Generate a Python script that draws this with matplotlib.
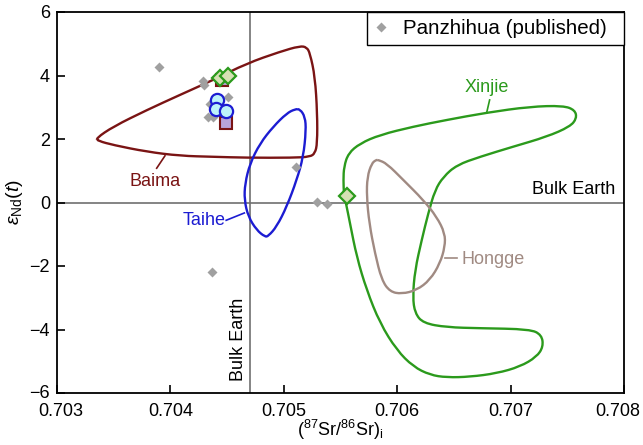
import numpy as np
import matplotlib
matplotlib.use("Agg")
import matplotlib.pyplot as plt
from matplotlib.path import Path
from matplotlib.patches import PathPatch
from matplotlib.transforms import ScaledTranslation

plt.rcParams['font.family'] = ['Liberation Sans', 'DejaVu Sans']
plt.rcParams['mathtext.fontset'] = 'custom'
plt.rcParams['mathtext.rm'] = 'Liberation Sans'
plt.rcParams['mathtext.it'] = 'Liberation Sans:italic'
plt.rcParams['mathtext.sf'] = 'Liberation Sans'

# ---- data ----
baima_x = [0.703344, 0.703496, 0.703791, 0.704085, 0.704378, 0.704673, 0.704967, 0.705143,
           0.705202, 0.705231, 0.705275, 0.705295, 0.705295, 0.705275, 0.705231, 0.705084,
           0.704673, 0.704378, 0.704085, 0.703791, 0.703496, 0.703364]
baima_y = [2.02, 2.39, 2.91, 3.39, 3.86, 4.38, 4.75, 4.93,
           4.89, 4.70, 3.96, 2.81, 1.86, 1.55, 1.44, 1.41,
           1.41, 1.44, 1.47, 1.60, 1.81, 1.94]

taihe_x = [0.705143, 0.705187, 0.705196, 0.705172, 0.705114, 0.705026, 0.704937, 0.704863,
           0.704834, 0.704761, 0.704687, 0.704652, 0.704658, 0.704702, 0.704790, 0.704907,
           0.705026, 0.705099]
taihe_y = [2.94, 2.70, 2.28, 1.44, 0.71, -0.13, -0.76, -1.06,
           -1.08, -0.87, -0.45, 0.08, 0.60, 1.23, 1.86, 2.39,
           2.81, 2.94]

xinjie_x = [0.705531, 0.705525, 0.705531, 0.705569, 0.705672, 0.705848, 0.706142, 0.706436,
            0.706789, 0.707171, 0.707465, 0.707568, 0.707583, 0.707524, 0.707318, 0.707024,
            0.706730, 0.706525, 0.706407, 0.706333, 0.706274, 0.706216, 0.706157, 0.706137,
            0.706157, 0.706230, 0.706436, 0.706730, 0.707171, 0.707274, 0.707288, 0.707230,
            0.707083, 0.706877, 0.706642, 0.706436, 0.706289, 0.706142, 0.705996, 0.705848,
            0.705731, 0.705643, 0.705584, 0.705549]
xinjie_y = [0.205, 0.71, 1.13, 1.55, 1.86, 2.13, 2.39, 2.60,
            2.83, 3.02, 3.05, 2.91, 2.65, 2.39, 2.07, 1.76,
            1.44, 1.18, 0.81, 0.39, -0.34, -1.18, -2.13, -2.97,
            -3.49, -3.80, -3.93, -3.96, -3.99, -4.17, -4.54, -4.86,
            -5.17, -5.38, -5.49, -5.51, -5.43, -5.17, -4.65, -3.80,
            -2.76, -1.71, -0.66, -0.03]

hongge_x = [0.705833, 0.705907, 0.706054, 0.706230, 0.706348, 0.706421, 0.706421, 0.706377,
            0.706289, 0.706172, 0.706040, 0.705936, 0.705863, 0.705804, 0.705754, 0.705731,
            0.705736, 0.705775, 0.705813]
hongge_y = [1.34, 1.23, 0.71, 0.08, -0.45, -0.97, -1.39, -1.92,
            -2.44, -2.76, -2.88, -2.81, -2.44, -1.60, -0.66, 0.18,
            0.81, 1.23, 1.34]

panzhihua_x = [0.703899, 0.704290, 0.704300, 0.704505, 0.704349, 0.704334, 0.704378,
               0.705108, 0.705290, 0.705378, 0.704370]
panzhihua_y = [4.28, 3.84, 3.70, 3.33, 3.10, 2.68, 2.68,
               1.11, 0.01, -0.05, -2.18]

square_x = [0.704452, 0.704490]
square_y = [3.86, 2.51]

circle_x = [0.704408, 0.704402, 0.704490]
circle_y = [3.23, 2.94, 2.88]

diamond_x = [0.704437, 0.704505, 0.705553]
diamond_y = [3.93, 3.99, 0.22]

bulk_sr = 0.7047
bulk_nd = 0.0

xticks = [0.703, 0.704, 0.705, 0.706, 0.707, 0.708]
yticks = [-6, -4, -2, 0, 2, 4, 6]

# ---- colors ----
c_baima = '#7a1414'
c_taihe = '#1c1cd2'
c_xinjie = '#2b9a1c'
c_hongge = '#a08a82'
c_grey = '#a0a0a0'

fig = plt.figure(figsize=(6.43, 4.45), dpi=100)
ax = fig.add_axes([57/643, 1-393/445, (624-57)/643, (393-12)/445])

ax.axvline(bulk_sr, color='#707070', lw=1.2, zorder=1)
ax.axhline(bulk_nd, color='#707070', lw=1.2, zorder=1)


def smooth_loop_path(xs, ys):
    """Closed quadratic-Bezier path using the read points as control points."""
    p = np.column_stack([xs, ys])
    n = len(p)
    mids = (p + np.roll(p, -1, axis=0)) / 2.0
    verts = [mids[-1]]
    codes = [Path.MOVETO]
    for i in range(n):
        verts += [p[i], mids[i]]
        codes += [Path.CURVE3, Path.CURVE3]
    return Path(verts, codes)


for xs, ys, c in [(baima_x, baima_y, c_baima), (taihe_x, taihe_y, c_taihe),
                  (xinjie_x, xinjie_y, c_xinjie), (hongge_x, hongge_y, c_hongge)]:
    ax.add_patch(PathPatch(smooth_loop_path(xs, ys), fill=False, edgecolor=c, lw=1.7,
                           zorder=2))

ax.plot(panzhihua_x, panzhihua_y, 'D', ms=5.3, color=c_grey, mec='none', zorder=3,
        ls='none', label='Panzhihua (published)')
ax.plot(square_x, square_y, 's', ms=9, mfc='#b9a3da', mec=c_baima, mew=1.5, zorder=4, ls='none')
ax.plot(circle_x, circle_y, 'o', ms=9.5, mfc='#bdf2fa', mec=c_taihe, mew=1.6, zorder=5, ls='none')
ax.plot(diamond_x, diamond_y, 'D', ms=8, mfc='#d6e0b4', mec=c_xinjie, mew=1.6, zorder=6, ls='none')

# labels with leaders
fs = 13
ax.text(0.703864, 0.66, 'Baima', color=c_baima, fontsize=fs, ha='center', va='center')
ax.plot([0.703879, 0.703952], [1.08, 1.47], color=c_baima, lw=1.2)
ax.text(0.704485, -0.56, 'Taihe', color=c_taihe, fontsize=fs, ha='right', va='center')
ax.plot([0.704492, 0.704652], [-0.56, -0.33], color=c_taihe, lw=1.2)
ax.text(0.706787, 3.61, 'Xinjie', color=c_xinjie, fontsize=fs, ha='center', va='center')
ax.plot([0.706815, 0.706789], [3.23, 2.83], color=c_xinjie, lw=1.2)
ax.text(0.70657, -1.78, 'Hongge', color=c_hongge, fontsize=fs, ha='left', va='center')
ax.plot([0.70642, 0.70653], [-1.76, -1.76], color=c_hongge, lw=1.2)

ax.text(0.70792, 0.13, 'Bulk Earth', fontsize=fs, ha='right', va='bottom')
ax.text(0.70460, -4.3, 'Bulk Earth', fontsize=fs, ha='center', va='center', rotation=90)

ax.set_xlim(0.703, 0.708)
ax.set_ylim(-6, 6)
ax.set_xticks(xticks)
ax.set_xticklabels(['%.3f' % v for v in xticks])
ax.set_yticks(yticks)
ax.set_yticklabels(['\u2212%d' % abs(v) if v < 0 else '%d' % v for v in yticks])
ax.tick_params(direction='in', length=6, width=1.2, labelsize=fs, colors='black')
ax.tick_params(axis='x', pad=7)
ax.tick_params(axis='y', pad=5)
for s in ax.spines.values():
    s.set_linewidth(1.3)

# nudge the end tick labels as in the reference
xl = ax.get_xticklabels()
xl[0].set_transform(xl[0].get_transform() + ScaledTranslation(4/100, 0, fig.dpi_scale_trans))
xl[-1].set_transform(xl[-1].get_transform() + ScaledTranslation(-6/100, 0, fig.dpi_scale_trans))
yl = ax.get_yticklabels()
yl[0].set_transform(yl[0].get_transform() + ScaledTranslation(0, 2/100, fig.dpi_scale_trans))

ax.set_xlabel(r'($^{87}$Sr/$^{86}$Sr)$_{\rm i}$', fontsize=fs, labelpad=-1)
ax.set_ylabel(r'$\varepsilon_{\rm Nd}(t)$', fontsize=14, labelpad=3)

leg_left = (367 - 57) / 567.0
leg = ax.legend(loc='upper left', bbox_to_anchor=(leg_left, 1.0, 1.0 - leg_left, 0.0),
                mode='expand', borderaxespad=0, fancybox=False, edgecolor='black',
                framealpha=1, fontsize=14.8, handlelength=0.7, handletextpad=0.7,
                borderpad=0.35, markerscale=1.0)
leg.get_frame().set_linewidth(1.0)

fig.savefig('out.png', dpi=100)
